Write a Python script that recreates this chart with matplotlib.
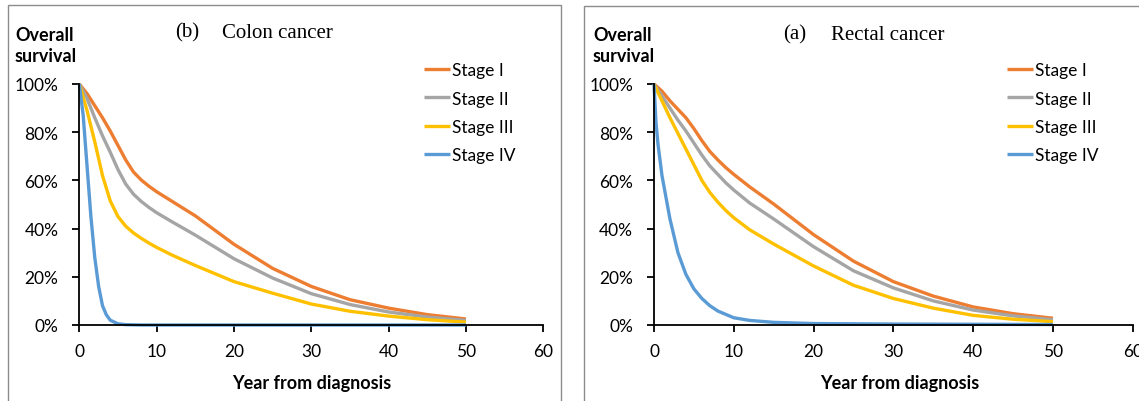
import matplotlib
matplotlib.use("Agg")
import matplotlib.pyplot as plt
from matplotlib.patches import Rectangle
from matplotlib.ticker import FuncFormatter

# ---- data (survival in %) ----
years = [0, 1, 2, 3, 4, 5, 6, 7, 8, 9, 10, 12, 15, 20, 25, 30, 35, 40, 45, 50]

colon_i = [100, 96, 91, 86, 80.5, 74.5, 68.5, 63.5, 60.2, 57.6, 55.3, 51.3, 45.3, 33.5, 23.5, 16, 10.5, 7, 4.3, 2.5]
colon_ii = [100, 94, 86, 78.5, 71.7, 64.5, 58.5, 54.3, 51.3, 48.8, 46.6, 42.8, 37.3, 27.5, 19.5, 13, 8.5, 5.4, 3.3, 1.9]
colon_iii = [100, 89, 76, 62, 51.5, 45, 41, 38.2, 36, 34, 32.2, 29, 24.7, 18, 13.2, 8.7, 5.7, 3.7, 2.2, 1.2]
colon_iv_years = [0, 0.5, 1, 1.5, 2, 2.5, 3, 3.5, 4, 5, 6, 8, 50]
colon_iv = [100, 87, 66, 45, 28, 16, 8, 4.2, 2, 0.5, 0.15, 0, 0]

rectal_i = [100, 97, 93, 89.5, 86, 81.5, 76.5, 72, 68.5, 65.3, 62.5, 57.3, 50.2, 37.5, 26.5, 18, 12, 7.5, 4.7, 2.8]
rectal_ii = [100, 95, 90, 85, 80.5, 75.5, 70.5, 66, 62.5, 59, 56, 50.6, 44, 32.5, 22.5, 15.4, 10, 6.2, 3.8, 2.2]
rectal_iii = [100, 93, 86, 79.5, 73, 66.5, 60, 55, 51, 47.5, 44.5, 39.5, 33.6, 24.5, 16.5, 11, 7, 4, 2.4, 1.4]
rectal_iv_years = [0, 0.25, 0.5, 1, 1.5, 2, 3, 4, 5, 6, 7, 8, 10, 12, 15, 20, 30, 40, 50]
rectal_iv = [100, 84, 75, 62, 53, 44, 30, 21, 15, 11, 8, 5.8, 3, 1.9, 1.1, 0.6, 0.4, 0.3, 0.2]

stage_names = ["Stage I", "Stage II", "Stage III", "Stage IV"]
stage_colors = ["#ED7D31", "#A5A5A5", "#FFC000", "#5B9BD5"]

W, H = 1139, 402
fig = plt.figure(figsize=(W / 100, H / 100), dpi=100)

def fx(px):
    return px / W

def fy(py):
    return 1 - py / H

# grey frames round each panel
fig.patches.append(Rectangle((fx(7.5), fy(410)), fx(561) - fx(7.5), fy(5.5) - fy(410),
                             transform=fig.transFigure, fill=False, ec="#8c8c8c", lw=1))
fig.patches.append(Rectangle((fx(583.5), fy(410)), fx(1145) - fx(583.5), fy(6.5) - fy(410),
                             transform=fig.transFigure, fill=False, ec="#8c8c8c", lw=1))

tickfont = "Lato"
pct = FuncFormatter(lambda v, p: f"{v:.0f}%")

panels = [
    dict(x0=79.3, x1=543.3, title_tag="(b)", title="Colon cancer", tag_x=175, title_x=222, title_y=37.5,
         series=[(years, colon_i), (years, colon_ii), (years, colon_iii), (colon_iv_years, colon_iv)],
         leg_x=424, ylab_x=15, xlab_x=312),
    dict(x0=654, x1=1132.7, title_tag="(a)", title="Rectal cancer", tag_x=783, title_x=831, title_y=39.5,
         series=[(years, rectal_i), (years, rectal_ii), (years, rectal_iii), (rectal_iv_years, rectal_iv)],
         leg_x=1007, ylab_x=593, xlab_x=900),
]

for p in panels:
    ax = fig.add_axes([fx(p["x0"]), fy(326), fx(p["x1"]) - fx(p["x0"]), fy(85) - fy(326)])
    for (xs, ys), name, col in zip(p["series"], stage_names, stage_colors):
        ax.plot(xs, ys, color=col, lw=2.4, label=name, solid_capstyle="butt",
                solid_joinstyle="round", clip_on=False)
    ax.set_xlim(0, 60)
    ax.set_ylim(0, 100)
    ax.set_xticks(range(0, 61, 10))
    ax.set_yticks(range(0, 101, 20))
    ax.yaxis.set_major_formatter(pct)
    for s in ["top", "right"]:
        ax.spines[s].set_visible(False)
    for s in ["left", "bottom"]:
        ax.spines[s].set_linewidth(1.3)
    ax.tick_params(direction="out", length=5, width=1.3, labelsize=12.5)
    ax.tick_params(axis="y", pad=10)
    ax.tick_params(axis="x", pad=8)
    for lab in ax.get_xticklabels() + ax.get_yticklabels():
        lab.set_family(tickfont)

    fig.text(fx(p["tag_x"]), fy(p["title_y"]), p["title_tag"], family="Liberation Serif",
             fontsize=15, va="baseline", ha="left")
    fig.text(fx(p["title_x"]), fy(p["title_y"]), p["title"], family="Liberation Serif",
             fontsize=15, va="baseline", ha="left")
    fig.text(fx(p["ylab_x"]), fy(46), "Overall\nsurvival", family=tickfont, fontweight="bold",
             fontsize=13, va="center", ha="left", linespacing=1.3)
    fig.text(fx(p["xlab_x"]), fy(384), "Year from diagnosis", family=tickfont, fontweight="bold",
             fontsize=13, va="center", ha="center")

    leg = ax.legend(loc="upper left", bbox_to_anchor=(fx(p["leg_x"]), fy(63)),
                    bbox_transform=fig.transFigure, frameon=False, handlelength=1.5,
                    handletextpad=0.1, labelspacing=0.72, borderpad=0, borderaxespad=0,
                    prop=dict(family=tickfont, size=12.5))

fig.savefig("out.png", dpi=100)
